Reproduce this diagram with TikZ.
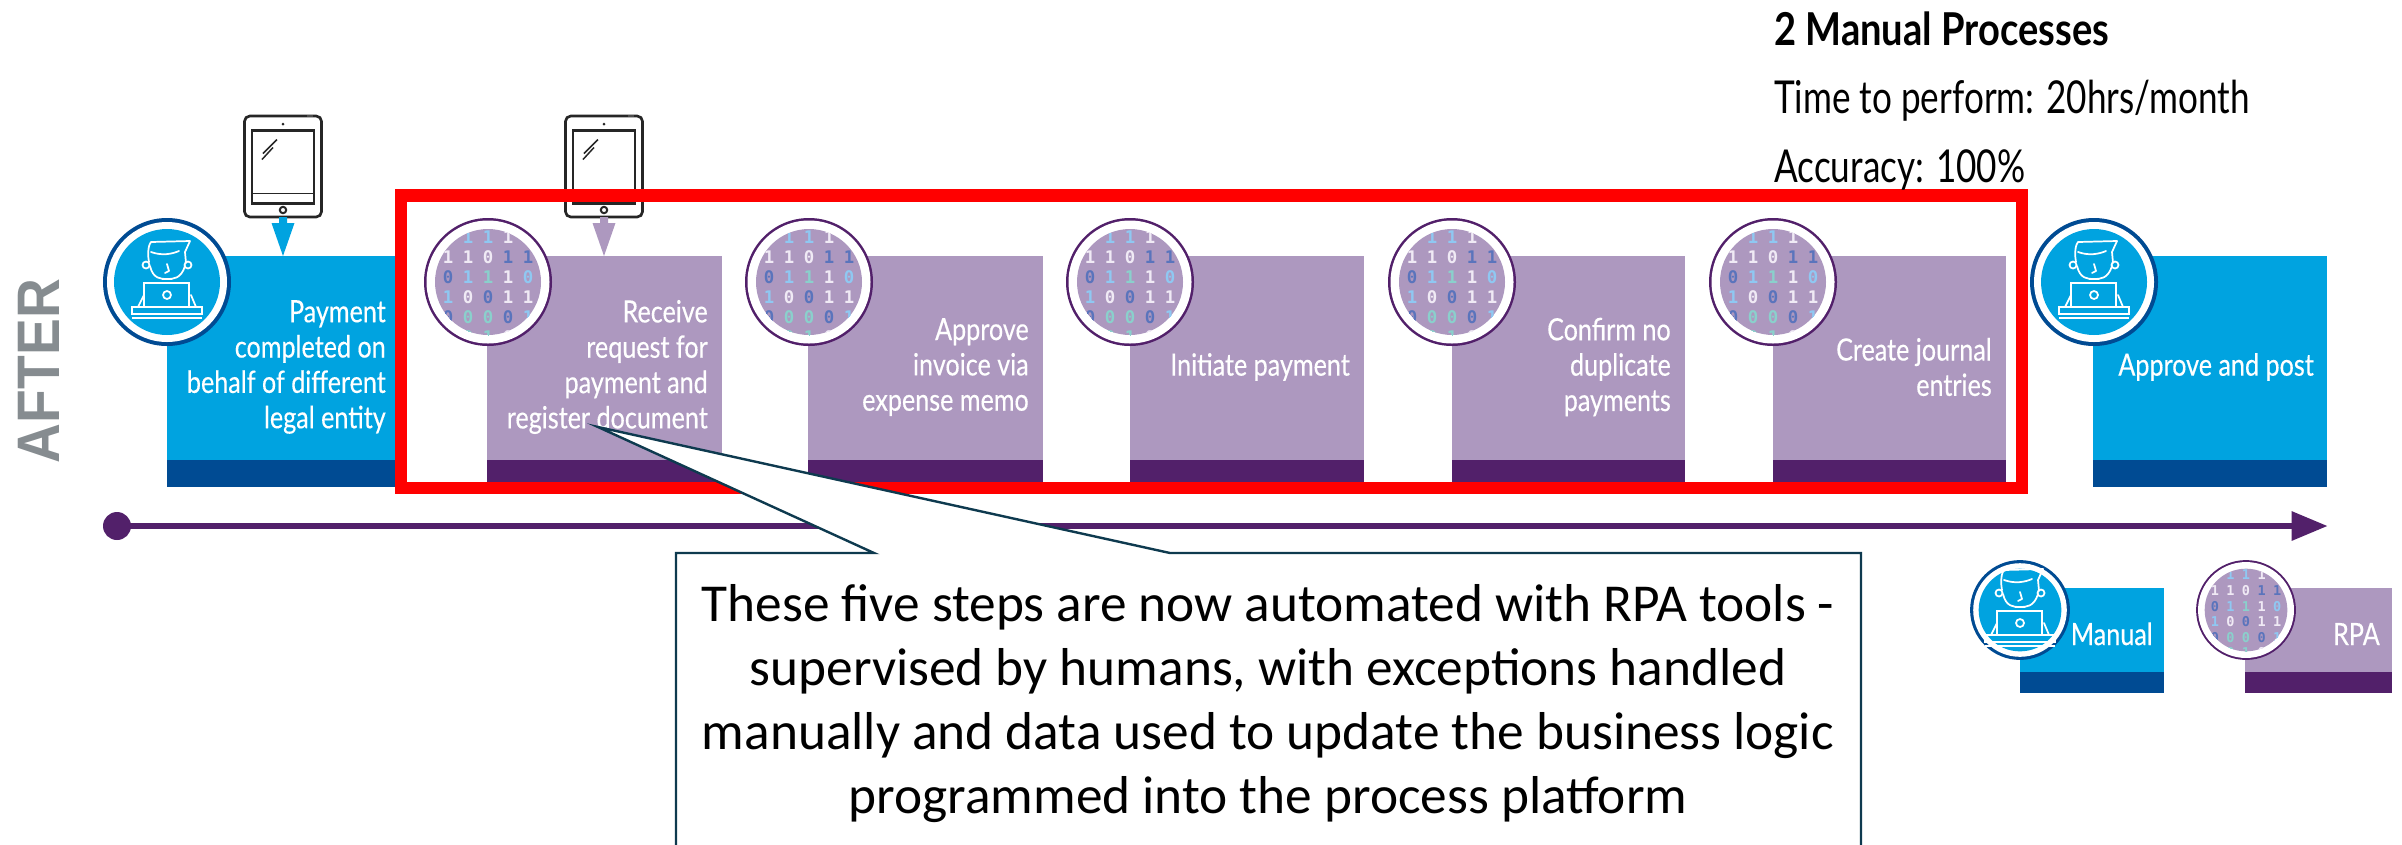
\documentclass[tikz,border=0pt]{standalone}
\usepackage{fontspec}
\usetikzlibrary{arrows.meta}
\setmainfont{Carlito}
\newfontfamily\narrowf[FakeStretch=0.82,FakeBold=0.35]{Lato}
\newfontfamily\headf[FakeStretch=0.775]{Lato}
\newfontfamily\headbf[FakeStretch=0.84]{Lato Bold}
\newfontfamily\afterf[FakeStretch=0.92]{Liberation Sans}
\newfontfamily\digitf{DejaVu Sans Mono}
\definecolor{mblue}{HTML}{00A3E0}
\definecolor{mnavy}{HTML}{004B93}
\definecolor{rlilac}{HTML}{AD98BF}
\definecolor{rplum}{HTML}{52206A}
\definecolor{calloutline}{HTML}{0E3A4F}
\definecolor{aftergrey}{HTML}{868C90}
\definecolor{dA}{HTML}{8FC8F2}
\definecolor{dB}{HTML}{5A74BC}
\definecolor{dC}{HTML}{8AD0CC}
\definecolor{dW}{HTML}{F0EAF5}
\tikzset{
  px/.style={x=0.75pt,y=-0.75pt},
  boxbody/.style={draw=none,inner sep=0pt,anchor=north west,minimum width=#1*0.75pt},
  steptext/.style={text=white,font=\narrowf\fontsize{23}{26.5}\selectfont,align=right,inner sep=0pt,anchor=east},
  headtext/.style={font=\headf\fontsize{34}{38}\selectfont,text=black,inner sep=0pt,anchor=base west},
  digit/.style={font=\digitf\bfseries\fontsize{13}{13}\selectfont,inner sep=0pt,transform shape},
  person/.pic={
    \draw[white,line width=1.3pt,line cap=round,line join=round]
      (-18,-20) .. controls (-20,-30) and (-18,-38) .. (-16,-40) -- (23,-41) -- (18,-30) -- (19,-19)
      (-16,-30) .. controls (-5,-26) and (5,-28) .. (12,-31)
      (-17,-16) .. controls (-14,-3) and (-6,-3) .. (0,-3) .. controls (6,-3) and (14,-3) .. (18,-16)
      (0,-18) -- (2,-11) -- (-2,-9)
      (-5,-3) -- (5,-3)
      (-23,13) -- (-29,25) (24,13) -- (29,25);
    \draw[white,line width=1.3pt] (-21,-17) circle[radius=3.5] (21,-17) circle[radius=3.5];
    \draw[white,line width=1.3pt] (-23,1) rectangle (22,25);
    \draw[white,line width=1.3pt] (0,13) circle[radius=4];
    \draw[white,line width=1.3pt] (-35,25) rectangle (35,32);
    \draw[white,line width=1.3pt] (-35,36) -- (35,36);
  },
  manualbadge/.pic={
    \fill[mnavy] (0,0) circle[radius=64];
    \fill[white] (0,0) circle[radius=60];
    \fill[mblue] (0,0) circle[radius=53];
    \pic {person};
  },
  rpabadge/.pic={
    \fill[rplum] (0,0) circle[radius=64];
    \fill[white] (0,0) circle[radius=61.5];
    \fill[rlilac] (0,0) circle[radius=53];
    \begin{scope}
      \clip (0,0) circle[radius=53];
      \foreach \r/\c/\d/\k in {
        0/-1/1/dA,0/0/1/dA,0/1/1/dW,
        1/-2/1/dW,1/-1/1/dW,1/0/0/dW,1/1/1/dB,1/2/1/dB,
        2/-2/0/dB,2/-1/1/dA,2/0/1/dC,2/1/1/dW,2/2/0/dA,
        3/-2/1/dA,3/-1/0/dW,3/0/0/dB,3/1/1/dW,3/2/1/dW,
        4/-2/0/dB,4/-1/0/dC,4/0/0/dC,4/1/0/dB,4/2/1/dA,
        5/-1/0/dC,5/0/1/dC,5/1/0/dW}
        \node[digit,text=\k] (d\r\c) at (20*\c,-45+20*\r) {\d};
    \end{scope}
  },
  tablet/.pic={
    \draw[black!85,line width=2pt,rounded corners=4pt] (-38.5,-50.5) rectangle (38.5,50.5);
    \fill[black!70] (24,-52) rectangle (30,-50);
    \draw[black!85,line width=1.8pt] (-31,-36) rectangle (31,37);
    \draw[black!85,line width=1pt] (-31,27) -- (31,27);
    \fill[black!85] (0,-42.5) circle[radius=1.5];
    \draw[black!85,line width=1.5pt,fill=white] (0,43.5) circle[radius=3.2];
    \draw[black!85,line width=1.1pt] (-20,-13) -- (-6,-27) (-21,-7) -- (-10,-19);
  }
}
\begin{document}
\begin{tikzpicture}[px]
\useasboundingbox (0,0) rectangle (2402,844);
% ---- step bodies
\foreach \i/\x/\w/\mc/\dc in {1/167/233/mblue/mnavy,2/487/235/rlilac/rplum,3/808/235/rlilac/rplum,4/1130/234/rlilac/rplum,5/1452/233/rlilac/rplum,6/1773/233/rlilac/rplum,7/2093/234/mblue/mnavy}{
  \node[boxbody=\w,fill=\mc,minimum height=153pt] (body\i) at (\x,256) {};
  \node[boxbody=\w,fill=\dc,minimum height=20.25pt] (band\i) at (\x,460) {};
}
% ---- badges
\pic (badge1) at (167,282) {manualbadge};
\foreach \i/\x in {2/488,3/809,4/1130,5/1452,6/1773}{\pic (badge\i) at (\x,282) {rpabadge};}
\pic (badge7) at (2094,282) {manualbadge};
% ---- labels
\node[steptext] (t1) at (386,367) {Payment\\completed on\\behalf of different\\legal entity};
\node[steptext] (t2) at (708,367) {Receive\\request for\\payment and\\register document};
\node[steptext] (t3) at (1029,367) {Approve\\invoice via\\expense memo};
\node[steptext] (t4) at (1350,367) {Initiate payment};
\node[steptext] (t5) at (1671,367) {Confirm no\\duplicate\\payments};
\node[steptext] (t6) at (1992,367) {Create journal\\entries};
\node[steptext] (t7) at (2314,367) {Approve and post};
% ---- tablets
\pic (tab1) at (283,166.5) {tablet};
\pic (tab2) at (604,166.5) {tablet};
\coordinate (tip1) at (283,256); \coordinate (tip2) at (604,256);
\fill[mblue] (279,217) -- (287,217) -- (287,223) -- (294.5,223) -- (tip1) -- (271.5,223) -- (279,223) -- cycle;
\fill[rlilac] (600,217) -- (608,217) -- (608,223) -- (615.5,223) -- (tip2) -- (592.5,223) -- (600,223) -- cycle;
% ---- red frame
\draw[red,line width=9.4pt] (401,195.5) rectangle (2022,488);
% ---- timeline
\node[circle,fill=rplum,inner sep=0pt,minimum size=21pt] (tstart) at (117,526) {};
\coordinate (tend) at (2327,526);
\draw[rplum,line width=4.5pt,-{Triangle[length=27pt,width=21pt]},shorten >=-0.5pt] (tstart.center) -- (tend);
% ---- callout
\coordinate (ctip) at (598,427);
\coordinate (cbl) at (874,553); \coordinate (cbr) at (1170,553);
\coordinate (ctl) at (676,553); \coordinate (ctr) at (1861,553);
\coordinate (cbotl) at (676,850); \coordinate (cbotr) at (1861,850);
\draw[calloutline,line width=1.8pt,fill=white,line join=miter] (cbotl) -- (ctl) -- (cbl) -- (ctip) -- (cbr) -- (ctr) -- (cbotr);
\node[inner sep=0pt,align=center,font=\fontsize{40}{48}\selectfont,text=black] (ctext) at (1268,704)
  {These five steps are now automated with RPA tools -\\supervised by humans, with exceptions handled\\manually and data used to update the business logic\\programmed into the process platform};
% ---- header
\node[headtext,font=\headbf\fontsize{34}{38}\selectfont] (h1) at (1774,45) {2 Manual Processes};
\node[headtext] (h2) at (1774,113) {Time to perform: 20hrs/month};
\node[headtext] (h3) at (1774,182) {Accuracy: 100\%};
% ---- AFTER
\node[rotate=90,inner sep=0pt,text=aftergrey,font=\afterf\bfseries\fontsize{45}{45}\selectfont] (after) at (39,371) {AFTER};
% ---- legend
\node[boxbody=144,fill=mblue,minimum height=63pt] (lm) at (2020,588) {};
\node[boxbody=144,fill=mnavy,minimum height=15.75pt] (lmb) at (2020,672) {};
\node[boxbody=147,fill=rlilac,minimum height=63pt] (lr) at (2245,588) {};
\node[boxbody=147,fill=rplum,minimum height=15.75pt] (lrb) at (2245,672) {};
\pic[scale=0.78] (lbadge1) at (2020,610) {manualbadge};
\pic[scale=0.78] (lbadge2) at (2246,610) {rpabadge};
\node[steptext,anchor=base east] (lt1) at (2153,645) {Manual};
\node[steptext,anchor=base east] (lt2) at (2380,645) {RPA};
\end{tikzpicture}
\end{document}
